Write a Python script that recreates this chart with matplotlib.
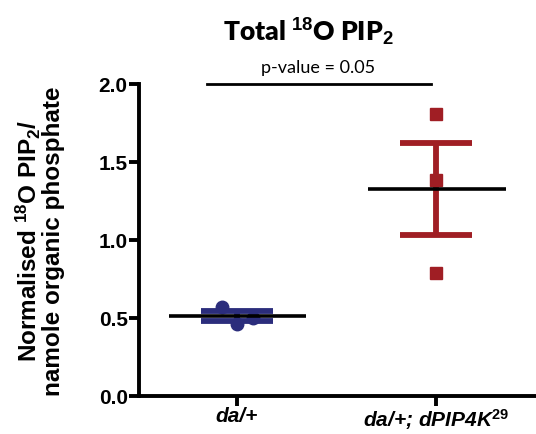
import numpy as np
import matplotlib
matplotlib.use("Agg")
import matplotlib.pyplot as plt

plt.rcParams['font.family'] = ['Liberation Sans', 'DejaVu Sans']
plt.rcParams['mathtext.fontset'] = 'custom'
plt.rcParams['mathtext.rm'] = 'Liberation Sans:bold'
plt.rcParams['mathtext.it'] = 'Liberation Sans:bold:italic'
plt.rcParams['mathtext.bf'] = 'Liberation Sans:bold'

groups = ['da/+', 'da/+; dPIP4K$^{\\mathit{29}}$']
da_vals = [0.57, 0.46, 0.50]
pip4k_vals = [1.81, 1.385, 0.79]
pvalue_text = 'p-value = 0.05'

colors = ['#2b2d7c', '#a01e24']
markers = ['o', 's']
jitter = [[-0.075, 0.0, 0.08], [0.0, 0.0, 0.0]]

fig = plt.figure(figsize=(5.36, 4.35), dpi=100)
ax = fig.add_axes([0.259, 0.0874, 0.741, 0.7172])

for i, vals in enumerate([da_vals, pip4k_vals]):
    v = np.array(vals)
    mean = v.mean()
    sem = v.std(ddof=1) / np.sqrt(len(v))
    xs = i + np.array(jitter[i])
    ax.plot(xs, v, linestyle='none', marker=markers[i], ms=9,
            color=colors[i], zorder=2)
    ax.errorbar(i, mean, yerr=sem, fmt='none', ecolor=colors[i],
                elinewidth=4.2, capsize=26, capthick=4.2, zorder=3)
    ax.hlines(mean, i - 0.34, i + 0.35, color='black', lw=2.6, zorder=4)

# significance bar
ax.plot([-0.15, 0.975], [2.0, 2.0], color='black', lw=2.0, clip_on=False)
ax.text(0.41, 2.06, pvalue_text, ha='center', va='bottom',
        fontsize=13, family=['Lato', 'DejaVu Sans'])

ax.set_xlim(-0.49, 1.5)
ax.set_ylim(0, 2.0)
ax.set_yticks([0.0, 0.5, 1.0, 1.5, 2.0])
ax.set_yticklabels(['0.0', '0.5', '1.0', '1.5', '2.0'], fontsize=15,
                   fontweight='bold')
ax.set_xticks([0, 1])
ax.set_xticklabels(groups, fontsize=15, fontweight='bold', fontstyle='italic')

for s in ['top', 'right']:
    ax.spines[s].set_visible(False)
for s in ['left', 'bottom']:
    ax.spines[s].set_linewidth(2.8)
ax.tick_params(width=2.8, length=7, pad=1)
ax.tick_params(axis='x', pad=0)

ax.set_ylabel('Normalised $^{18}$O PIP$_{2}$/\nnamole organic phosphate',
              fontsize=17.5, fontweight='bold', labelpad=24, linespacing=0.95)

fig.text(0.575, 0.925, 'Total $^{18}$O PIP$_2$', ha='center', va='center',
         fontsize=19, fontweight='heavy', family=['Lato', 'DejaVu Sans'])

fig.savefig('out.png', dpi=100)
